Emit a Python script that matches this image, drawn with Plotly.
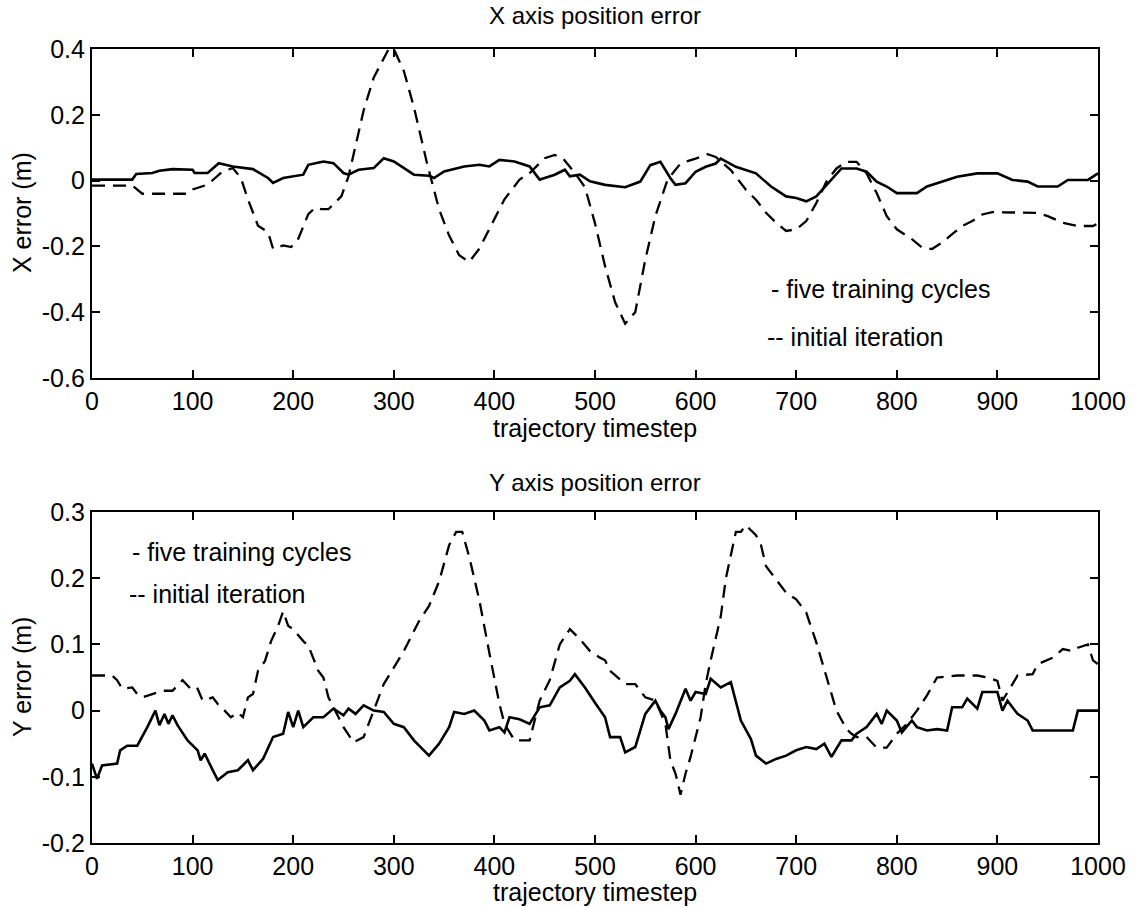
import plotly.graph_objects as go

# ---------------- data ----------------
x_five_t = [0,40,44,60,67,80,100,102,115,126,140,150,160,175,180,190,210,215,230,240,250,255,265,280,290,300,310,320,335,340,350,370,385,395,405,420,435,445,450,460,470,475,485,495,510,530,545,555,565,575,580,590,600,610,620,625,640,650,660,675,690,700,710,720,730,745,760,770,780,790,800,820,830,845,860,880,900,915,930,940,960,970,990,1000]
x_five_v = [0.003,0.003,0.02,0.023,0.03,0.035,0.033,0.023,0.023,0.053,0.043,0.04,0.035,0.008,-0.007,0.008,0.018,0.048,0.058,0.053,0.023,0.018,0.033,0.038,0.068,0.058,0.038,0.018,0.015,0.008,0.028,0.043,0.048,0.043,0.063,0.058,0.043,0.003,0.008,0.018,0.033,0.013,0.018,-0.002,-0.013,-0.02,-0.003,0.047,0.057,0.007,-0.013,-0.008,0.027,0.042,0.052,0.067,0.042,0.032,0.022,-0.018,-0.048,-0.053,-0.063,-0.048,-0.013,0.037,0.037,0.027,-0.003,-0.018,-0.038,-0.038,-0.018,-0.003,0.012,0.022,0.022,0.002,-0.003,-0.018,-0.018,0.002,0.002,0.022]

x_init_t = [0,40,50,95,100,115,130,140,148,155,165,175,180,190,198,205,215,222,228,235,240,248,255,260,270,280,295,300,310,320,333,345,355,365,375,385,395,410,425,435,450,460,468,480,490,500,510,520,530,540,550,560,572,585,600,612,620,635,650,660,670,680,690,700,710,720,730,740,750,760,770,780,790,800,815,825,835,845,855,865,875,885,895,920,940,950,965,980,995,1000]
x_init_v = [-0.015,-0.015,-0.04,-0.04,-0.027,-0.012,0.028,0.038,0.008,-0.057,-0.137,-0.157,-0.207,-0.197,-0.202,-0.177,-0.102,-0.082,-0.087,-0.087,-0.072,-0.047,0.013,0.083,0.213,0.313,0.4,0.4,0.333,0.223,0.053,-0.087,-0.167,-0.227,-0.247,-0.207,-0.147,-0.057,0.003,0.023,0.068,0.078,0.068,0.023,-0.02,-0.13,-0.26,-0.37,-0.435,-0.40,-0.24,-0.108,0.002,0.052,0.067,0.08,0.072,0.032,-0.028,-0.058,-0.098,-0.128,-0.153,-0.148,-0.123,-0.068,-0.003,0.037,0.057,0.057,0.022,-0.038,-0.108,-0.148,-0.178,-0.203,-0.208,-0.188,-0.163,-0.138,-0.123,-0.103,-0.096,-0.098,-0.098,-0.108,-0.128,-0.138,-0.138,-0.13]

y_five_t = [0,5,10,25,28,35,45,50,55,63,67,72,76,80,85,95,105,108,112,120,125,135,145,155,160,170,180,190,195,200,205,210,220,230,240,250,255,262,270,280,290,300,310,320,330,335,345,355,360,370,380,390,395,405,410,415,425,435,445,455,465,475,480,490,500,510,515,525,530,540,550,555,560,565,570,573,580,590,595,600,610,615,625,635,645,655,660,670,680,690,700,710,720,728,735,745,755,760,770,780,785,790,800,805,815,820,830,840,850,855,865,870,880,885,900,905,910,920,930,935,960,975,980,1000]
y_five_v = [-0.08,-0.103,-0.083,-0.08,-0.06,-0.053,-0.053,-0.04,-0.025,0.0,-0.022,-0.005,-0.02,-0.007,-0.022,-0.045,-0.06,-0.075,-0.065,-0.09,-0.105,-0.093,-0.09,-0.075,-0.09,-0.073,-0.04,-0.035,-0.002,-0.025,0.0,-0.025,-0.01,-0.01,0.003,-0.007,0.003,-0.005,0.008,0.0,-0.002,-0.02,-0.025,-0.045,-0.06,-0.068,-0.05,-0.025,-0.002,-0.005,0.0,-0.015,-0.03,-0.025,-0.033,-0.01,-0.013,-0.02,0.005,0.008,0.035,0.045,0.055,0.035,0.012,-0.01,-0.04,-0.04,-0.063,-0.055,-0.005,0.005,0.015,0.0,-0.01,-0.028,-0.005,0.033,0.015,0.028,0.025,0.048,0.035,0.043,-0.015,-0.043,-0.068,-0.08,-0.073,-0.068,-0.06,-0.055,-0.058,-0.05,-0.07,-0.045,-0.045,-0.035,-0.025,-0.005,-0.02,0.0,-0.015,-0.033,-0.015,-0.025,-0.03,-0.028,-0.03,0.005,0.005,0.018,0.003,0.028,0.028,0.0,0.015,-0.005,-0.015,-0.03,-0.03,-0.03,0.0,0.0]

y_init_t = [0,20,25,30,40,45,50,60,65,70,80,90,100,105,110,120,125,130,138,145,150,155,160,165,172,178,185,190,195,200,210,215,225,230,235,250,260,270,280,290,300,310,325,335,345,355,362,368,375,385,395,405,410,420,428,435,445,455,465,475,485,495,505,510,515,525,530,540,545,550,560,570,575,580,585,590,595,600,605,610,615,625,630,640,645,650,660,665,670,680,690,700,710,720,730,740,750,755,760,770,780,790,800,810,820,830,840,860,880,890,900,905,915,920,935,940,955,965,975,980,990,995,1000]
y_init_v = [0.053,0.053,0.046,0.033,0.035,0.025,0.02,0.025,0.028,0.03,0.03,0.046,0.03,0.033,0.015,0.02,0.01,0.003,-0.01,-0.003,-0.01,0.02,0.025,0.06,0.075,0.105,0.128,0.15,0.128,0.123,0.105,0.098,0.06,0.05,0.02,-0.025,-0.048,-0.04,0.0,0.04,0.065,0.09,0.135,0.158,0.195,0.25,0.27,0.27,0.232,0.167,0.087,0.01,-0.02,-0.045,-0.045,-0.045,0.015,0.046,0.1,0.123,0.108,0.09,0.08,0.076,0.06,0.046,0.04,0.04,0.03,0.02,0.015,-0.02,-0.076,-0.095,-0.127,-0.095,-0.07,-0.04,-0.01,0.04,0.076,0.142,0.199,0.27,0.27,0.28,0.265,0.25,0.218,0.198,0.178,0.168,0.148,0.103,0.05,0.0,-0.028,-0.035,-0.04,-0.04,-0.056,-0.056,-0.035,-0.02,0.0,0.023,0.05,0.053,0.053,0.05,0.045,0.015,0.04,0.053,0.055,0.07,0.08,0.093,0.09,0.095,0.1,0.076,0.07]

x_ticks = [0,100,200,300,400,500,600,700,800,900,1000]
top_yticks = [-0.6,-0.4,-0.2,0,0.2,0.4]
top_ylabels = ["-0.6","-0.4","-0.2","0","0.2","0.4"]
bot_yticks = [-0.2,-0.1,0,0.1,0.2,0.3]
bot_ylabels = ["-0.2","-0.1","0","0.1","0.2","0.3"]

assert len(x_five_t) == len(x_five_v)
assert len(x_init_t) == len(x_init_v)
assert len(y_five_t) == len(y_five_v)
assert len(y_init_t) == len(y_init_v)

# ---------------- layout ----------------
W, H = 1138, 907
ML, MR, MT, MB = 92, 40, 49, 64
PH = H - MT - MB
FONT = "Liberation Sans, Arial, Helvetica, sans-serif"


def py(px):  # pixel y (from top) -> paper y
    return 1 - (px - MT) / PH


def pxx(px):  # pixel x -> paper x
    return (px - ML) / (W - ML - MR)


fig = go.Figure()
solid = dict(color="black", width=2.6)
dashed = dict(color="black", width=2.3, dash="13px,8px")

fig.add_trace(go.Scatter(x=x_five_t, y=x_five_v, mode="lines", line=solid, xaxis="x", yaxis="y"))
fig.add_trace(go.Scatter(x=x_init_t, y=x_init_v, mode="lines", line=dashed, xaxis="x", yaxis="y"))
fig.add_trace(go.Scatter(x=y_five_t, y=y_five_v, mode="lines", line=solid, xaxis="x2", yaxis="y2"))
fig.add_trace(go.Scatter(x=y_init_t, y=y_init_v, mode="lines", line=dashed, xaxis="x2", yaxis="y2"))

axis_common = dict(showline=True, linecolor="black", linewidth=2.2, mirror="ticks",
                   ticks="inside", ticklen=8, tickwidth=1.8, tickcolor="black",
                   showgrid=False, zeroline=False,
                   tickfont=dict(family=FONT, size=25, color="black"))

top_dom = [py(378), 1.0]
bot_dom = [0.0, py(512)]

fig.update_layout(
    width=W, height=H,
    margin=dict(l=ML, r=MR, t=MT, b=MB),
    paper_bgcolor="white", plot_bgcolor="white",
    showlegend=False,
    xaxis=dict(axis_common, domain=[0, 1], range=[0, 1000], tickvals=x_ticks, anchor="y"),
    yaxis=dict(axis_common, domain=top_dom, range=[-0.6, 0.4], tickvals=top_yticks, ticktext=top_ylabels, anchor="x"),
    xaxis2=dict(axis_common, domain=[0, 1], range=[0, 1000], tickvals=x_ticks, anchor="y2"),
    yaxis2=dict(axis_common, domain=bot_dom, range=[-0.2, 0.3], tickvals=bot_yticks, ticktext=bot_ylabels, anchor="x2"),
)

txt = dict(family=FONT, size=24, color="black")
big = dict(family=FONT, size=25, color="black")
C = dict(xref="paper", yref="paper", showarrow=False, font=txt, xanchor="center", yanchor="middle")
L = dict(showarrow=False, font=big, xanchor="left", yanchor="middle")
ann = [
    dict(C, text="X axis position error", x=pxx(595), y=py(16)),
    dict(C, text="trajectory timestep", x=pxx(595), y=py(428), font=big),
    dict(C, text="Y axis position error", x=pxx(595), y=py(482)),
    dict(C, text="trajectory timestep", x=pxx(595), y=py(892), font=big),
    dict(C, text="X error (m)", x=pxx(22), y=py(213), textangle=-90, font=big),
    dict(C, text="Y error (m)", x=pxx(22), y=py(677), textangle=-90, font=big),
    dict(L, text="- five training cycles", x=673, y=-0.33, xref="x", yref="y"),
    dict(L, text="-- initial iteration", x=669, y=-0.475, xref="x", yref="y"),
    dict(L, text="- five training cycles", x=38, y=0.24, xref="x2", yref="y2"),
    dict(L, text="-- initial iteration", x=35, y=0.176, xref="x2", yref="y2"),
]
fig.update_layout(annotations=ann)

fig.write_html("out.html")
